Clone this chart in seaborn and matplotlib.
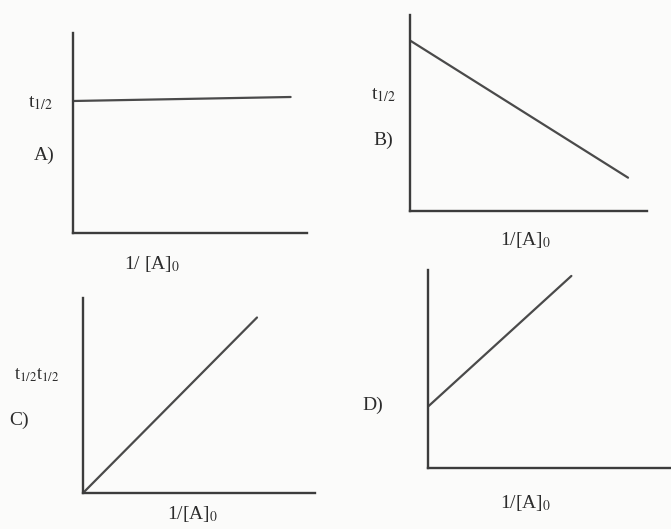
import numpy as np
import pandas as pd
import matplotlib
matplotlib.use("Agg")
import matplotlib.pyplot as plt
import seaborn as sns

# four sketch graphs: t1/2 against 1/[A]0, in unit axes (0..1)
A_X = [0.0, 0.93]
A_Y = [0.66, 0.68]
B_X = [0.0, 0.92]
B_Y = [0.87, 0.17]
C_X = [0.0, 0.75]
C_Y = [0.0, 0.90]
D_X = [0.0, 0.59]
D_Y = [0.31, 0.97]

PANEL_TAGS = ["A)", "B)", "C)", "D)"]
X_LABELS = ["1/ [A]$_0$", "1/[A]$_0$", "1/[A]$_0$", "1/[A]$_0$"]
Y_LABELS = ["t$_{1/2}$", "t$_{1/2}$", "t$_{1/2}$t$_{1/2}$", ""]

W, H = 671, 529
BG = "#fbfbfa"
INK = "#2c2c2c"

sns.set_theme(style="white")
plt.rcParams["font.family"] = ["Liberation Serif", "DejaVu Serif"]
plt.rcParams["mathtext.fontset"] = "stix"

fig = plt.figure(figsize=(W / 100, H / 100), dpi=100, facecolor=BG)

# pixel boxes (left, top, right, bottom) of each drawn axis pair
boxes = [(73, 33, 307, 233), (410, 15, 647, 211),
         (83, 298, 315, 493), (428, 270, 671, 468)]
series = [(A_X, A_Y), (B_X, B_Y), (C_X, C_Y), (D_X, D_Y)]

for (l, t, r, b), (xs, ys) in zip(boxes, series):
    ax = fig.add_axes([l / W, 1 - b / H, (r - l) / W, (b - t) / H])
    ax.set_facecolor("none")
    df = pd.DataFrame({"x": xs, "y": ys})
    sns.lineplot(data=df, x="x", y="y", ax=ax, color="#4a4a4a", lw=1.6)
    ax.set_xlim(0, 1)
    ax.set_ylim(0, 1)
    ax.set_xticks([]); ax.set_yticks([])
    ax.set_xlabel(""); ax.set_ylabel("")
    for side in ["top", "right"]:
        ax.spines[side].set_visible(False)
    for side in ["left", "bottom"]:
        ax.spines[side].set_color("#3c3c3c")
        ax.spines[side].set_linewidth(1.7)

# labels placed in pixel positions
def put(txt, x, y, size=14):
    fig.text(x / W, 1 - y / H, txt, ha="center", va="center",
             fontsize=size, color=INK)

put(Y_LABELS[0], 40, 103)
put(PANEL_TAGS[0], 44, 155)
put(X_LABELS[0], 152, 264)

put(Y_LABELS[1], 383, 95)
put(PANEL_TAGS[1], 383, 140)
put(X_LABELS[1], 526, 240)

put(Y_LABELS[2], 37, 375, 13)
put(PANEL_TAGS[2], 19, 420)
put(X_LABELS[2], 193, 514)

put(PANEL_TAGS[3], 373, 405)
put(X_LABELS[3], 526, 503)

fig.savefig("out.png", dpi=100, facecolor=BG)
